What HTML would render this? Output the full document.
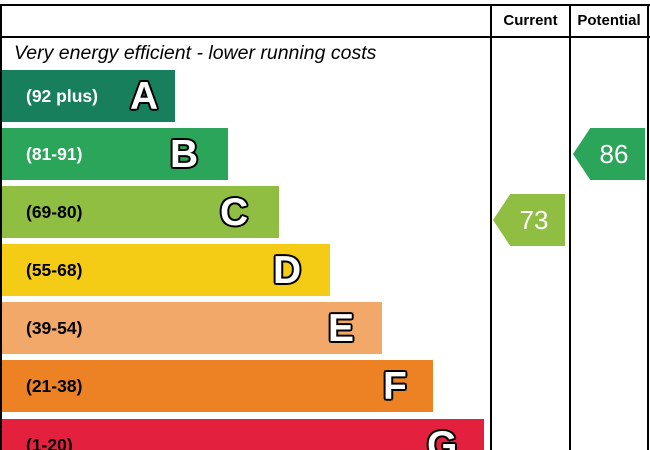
<!DOCTYPE html>
<html><head><style>
html,body{margin:0;width:650px;height:450px;overflow:hidden}
body{background:#fff;font-family:"Liberation Sans",sans-serif;position:relative}
.l{position:absolute;background:#000}
.bar{position:absolute;left:2px;height:52px;overflow:hidden}
.bar .r{position:absolute;left:24px;top:0;line-height:52px;font-weight:bold;font-size:17.5px}
.bar .k{position:absolute;top:0;height:52px;line-height:54px;font-weight:900;font-size:39px;color:#fff;text-shadow:2px 0 0 #000,-2px 0 0 #000,0 2px 0 #000,0 -2px 0 #000,1.5px 1.5px 0 #000,-1.5px -1.5px 0 #000,1.5px -1.5px 0 #000,-1.5px 1.5px 0 #000}
.arr{position:absolute;width:72px;height:52px;color:#fff;font-size:26px;line-height:52px;text-align:center;clip-path:polygon(0 50%,24% 0,100% 0,100% 100%,24% 100%)}
.arr span{padding-left:10px}
</style></head><body>
<div class="l" style="left:0;top:4px;width:650px;height:2px"></div>
<div class="l" style="left:0;top:36px;width:650px;height:2px"></div>
<div class="l" style="left:0;top:4px;width:2px;height:446px"></div>
<div class="l" style="left:490px;top:4px;width:2px;height:446px"></div>
<div class="l" style="left:569px;top:4px;width:2px;height:446px"></div>
<div class="l" style="left:647px;top:4px;width:2px;height:446px"></div>
<div style="position:absolute;left:492px;top:12px;width:77px;text-align:center;font-weight:bold;font-size:15px">Current</div>
<div style="position:absolute;left:571px;top:12px;width:76px;text-align:center;font-weight:bold;font-size:15px">Potential</div>
<div style="position:absolute;left:14px;top:42px;font-style:italic;font-size:19.5px">Very energy efficient - lower running costs</div>
<div class="bar" style="top:70px;width:173px;background:#177f5b"><span class="r" style="color:#fff">(92 plus)</span><span class="k" style="left:128px">A</span></div>
<div class="bar" style="top:128px;width:226px;background:#2aa55a"><span class="r" style="color:#fff">(81-91)</span><span class="k" style="left:168px">B</span></div>
<div class="bar" style="top:186px;width:277px;background:#8fbe42"><span class="r">(69-80)</span><span class="k" style="left:218px">C</span></div>
<div class="bar" style="top:244px;width:328px;background:#f4cb15"><span class="r">(55-68)</span><span class="k" style="left:271px">D</span></div>
<div class="bar" style="top:302px;width:380px;background:#f1a868"><span class="r">(39-54)</span><span class="k" style="left:326px">E</span></div>
<div class="bar" style="top:360px;width:431px;background:#ec8224"><span class="r">(21-38)</span><span class="k" style="left:381px">F</span></div>
<div class="bar" style="top:419px;width:482px;height:31px;background:#e3203e"><span class="r">(1-20)</span><span class="k" style="left:425px">G</span></div>
<div class="arr" style="left:493px;top:194px;background:#8fbe42"><span>73</span></div>
<div class="arr" style="left:573px;top:128px;background:#2aa55a"><span>86</span></div>
</body></html>
